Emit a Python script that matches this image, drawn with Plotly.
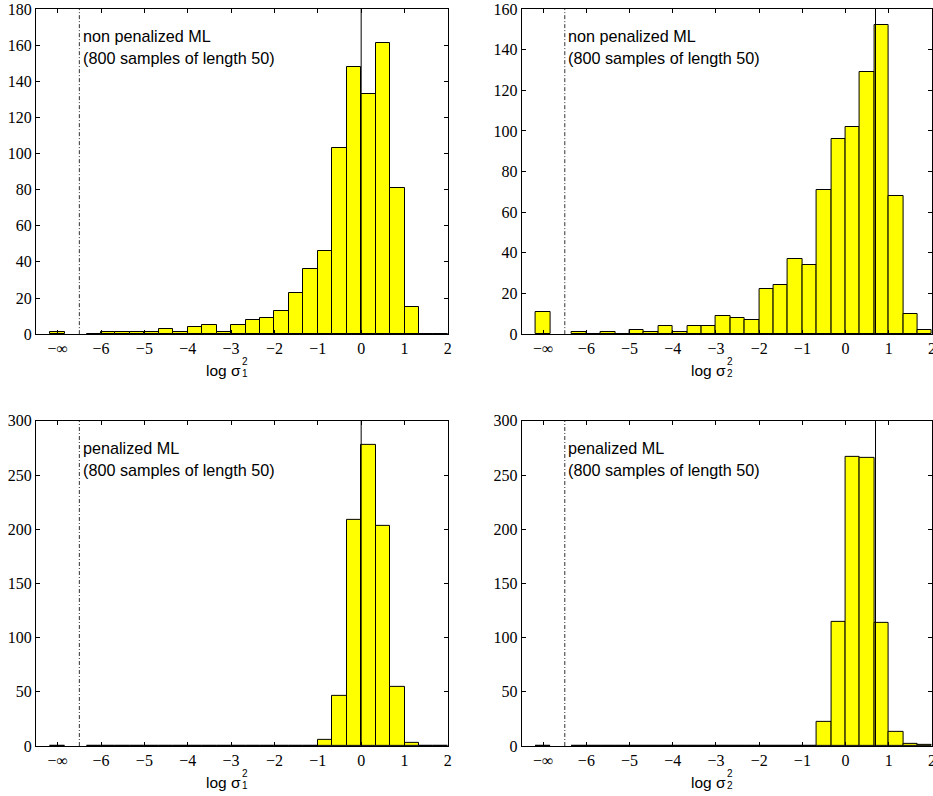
import plotly.graph_objects as go

W, H = 933, 796

# ---------------- data ----------------
bin_width = 1 / 3
bin_centers = [-6.3333 + bin_width * (k + 0.5) for k in range(25)]
inf_pos = -7.0  # position used for the "-inf" bin

# counts per bin (left to right), plus count of -inf estimates
counts_nonpen_s1 = [0, 1, 1, 1, 1, 3, 1, 4, 5, 1, 5, 8, 9, 13, 23, 36, 46,
                    103, 148, 133, 161, 81, 15, 0, 0]
inf_nonpen_s1 = 1
counts_nonpen_s2 = [1, 0, 1, 0, 2, 1, 4, 1, 4, 4, 9, 8, 7, 22, 24, 37, 34,
                    71, 96, 102, 129, 152, 68, 10, 2]
inf_nonpen_s2 = 11
counts_pen_s1 = [0] * 16 + [6, 46, 209, 278, 203, 55, 3, 0, 0]
inf_pen_s1 = 0
counts_pen_s2 = [0] * 17 + [22, 115, 267, 266, 114, 13, 2, 1]
inf_pen_s2 = 0

true_log_s1 = 0.0
true_log_s2 = 0.693
divider_x = -6.5

x_tickvals = [-7, -6, -5, -4, -3, -2, -1, 0, 1, 2]
x_ticktext = ["\u2212\u221e", "\u22126", "\u22125", "\u22124", "\u22123",
              "\u22122", "\u22121", "0", "1", "2"]
y_ranges = [180, 160, 300, 300]
y_dticks = [20, 20, 50, 50]
titles = ["non penalized ML", "non penalized ML", "penalized ML", "penalized ML"]
subtitle = "(800 samples of length 50)"
sub_idx = ["1", "2", "1", "2"]

panels = [
    (counts_nonpen_s1, inf_nonpen_s1, true_log_s1),
    (counts_nonpen_s2, inf_nonpen_s2, true_log_s2),
    (counts_pen_s1, inf_pen_s1, true_log_s1),
    (counts_pen_s2, inf_pen_s2, true_log_s2),
]

# ---------------- layout geometry (pixels) ----------------
ML, MR, MT, MB = 36, 0.8, 9, 50.3
PW, PH = W - ML - MR, H - MT - MB
x_doms_px = [(36, 448), (521.7, 932.2)]
y_doms_px = [(9, 334), (420.7, 745.7)]

def dx(px):
    return (px - ML) / PW

def dy(py):
    return 1 - (py - MT) / PH

SERIF = "Liberation Serif"
SANS = "Liberation Sans"

fig = go.Figure()
layout = dict(
    width=W, height=H,
    margin=dict(l=ML, r=MR, t=MT, b=MB, autoexpand=False),
    paper_bgcolor="white", plot_bgcolor="white",
    showlegend=False,
    shapes=[], annotations=[],
    bargap=0,
)

for i, (counts, inf_count, true_val) in enumerate(panels):
    row, col = divmod(i, 2)
    ax = "" if i == 0 else str(i + 1)
    xa, ya = "x" + ax, "y" + ax
    xd, yd = x_doms_px[col], y_doms_px[row]

    fig.add_trace(go.Bar(
        x=bin_centers + [inf_pos], y=counts + [inf_count],
        width=[bin_width] * 26,
        marker=dict(color="#ffff00", line=dict(color="black", width=1)),
        xaxis=xa, yaxis=ya, hoverinfo="x+y",
    ))

    common = dict(showgrid=False, zeroline=False, showline=True,
                  linecolor="black", linewidth=1, mirror="ticks",
                  ticks="inside", ticklen=4, tickcolor="black",
                  automargin=False, ticklabeloverflow="allow",
                  tickfont=dict(family=SERIF, size=16, color="black"))
    layout["xaxis" + ax] = dict(
        common, domain=[dx(xd[0]), min(1, dx(xd[1]))], range=[-7.5, 2.001],
        tickvals=x_tickvals, ticktext=x_ticktext,
        anchor=ya,
    )
    layout["yaxis" + ax] = dict(
        common, domain=[max(0, dy(yd[1])), min(1, dy(yd[0]))],
        range=[0, y_ranges[i]], dtick=y_dticks[i], tick0=0, anchor=xa,
    )

    # true value line
    layout["shapes"].append(dict(
        type="line", xref=xa, yref=ya + " domain", x0=true_val, x1=true_val,
        y0=0, y1=1, line=dict(color="black", width=1)))
    # dash-dot divider separating -inf bin
    layout["shapes"].append(dict(
        type="line", xref=xa, yref=ya + " domain", x0=divider_x, x1=divider_x,
        y0=0, y1=1, line=dict(color="#333333", width=1, dash="4px,2px,1px,2px")))

    # text labels
    layout["annotations"].append(dict(
        xref=xa, yref=ya + " domain", x=-6.47, y=0.918, xanchor="left",
        yanchor="middle", showarrow=False, text=titles[i],
        font=dict(family=SANS, size=16.2, color="black")))
    layout["annotations"].append(dict(
        xref=xa, yref=ya + " domain", x=-6.47, y=0.848, xanchor="left",
        yanchor="middle", showarrow=False, text=subtitle,
        font=dict(family=SANS, size=16.2, color="black")))

    # x label: log sigma_i^2 with stacked sub/superscript
    xr = xd[0] + (242 - 36) if col == 0 else xd[0] + (727 - 521.7)
    base_y = yd[1] + 36
    layout["annotations"].append(dict(
        xref="paper", yref="paper", x=dx(xr), y=dy(base_y),
        xanchor="right", yanchor="middle", showarrow=False, borderpad=0,
        text="log \u03c3", font=dict(family=SANS, size=15.5, color="black")))
    layout["annotations"].append(dict(
        xref="paper", yref="paper", x=dx(xr - 1), y=dy(base_y - 9),
        xanchor="left", yanchor="middle", showarrow=False, borderpad=0,
        text="2", font=dict(family=SANS, size=10, color="black")))
    layout["annotations"].append(dict(
        xref="paper", yref="paper", x=dx(xr - 1), y=dy(base_y + 3),
        xanchor="left", yanchor="middle", showarrow=False, borderpad=0,
        text=sub_idx[i], font=dict(family=SANS, size=10, color="black")))

fig.update_layout(**layout)
fig.write_html("out.html", config={"displayModeBar": False},
               post_script="document.body.style.margin='0';")
